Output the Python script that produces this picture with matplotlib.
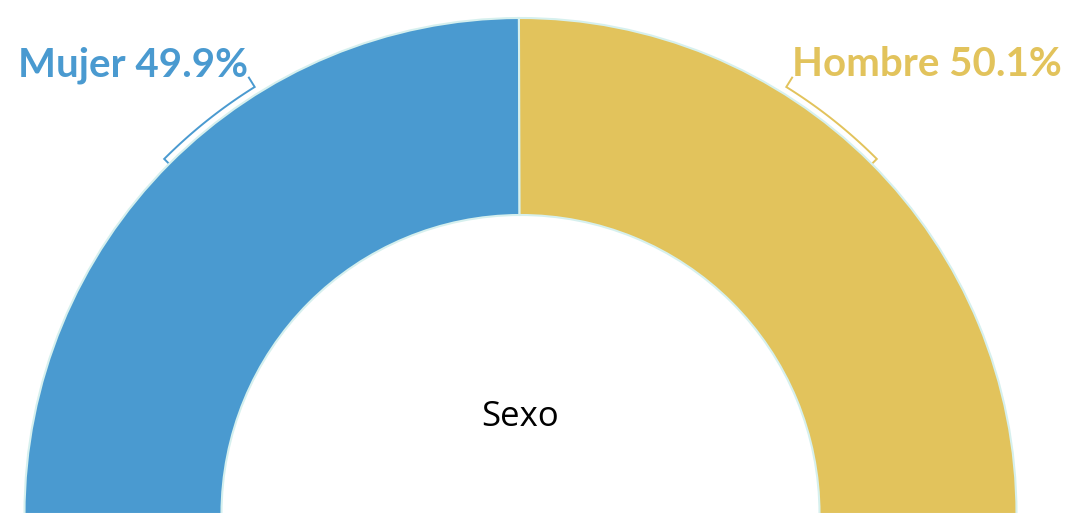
import numpy as np
import matplotlib
matplotlib.use("Agg")
import matplotlib.pyplot as plt
from matplotlib.patches import Wedge

categories = ["Mujer", "Hombre"]
values = [49.9, 50.1]
colors = ["#4A9AD0", "#E2C35C"]
center_label = "Sexo"

W, H = 1069, 513
fig = plt.figure(figsize=(W / 100, H / 100), dpi=100)
ax = fig.add_axes([0, 0, 1, 1])
ax.set_xlim(0, W)
ax.set_ylim(0, H)
ax.set_aspect("equal")
ax.axis("off")

cx, cy = 520.5, -1
r_out, r_in = 496, 299
edge = "#D6F0EE"

total = sum(values)
start = 180.0
for cat, val, col in zip(categories, values, colors):
    span = 180.0 * val / total
    end = start - span
    ax.add_patch(Wedge((cx, cy), r_out, end, start, width=r_out - r_in,
                       facecolor=col, edgecolor=edge, linewidth=1.5))
    start = end

# bracket connectors (layout)
def pol(r, a):
    t = np.deg2rad(a)
    return cx + r * np.cos(t), cy + r * np.sin(t)

brackets = [(135.1, 121.9), (180 - 135.1, 180 - 121.9)]
for (a_low, a_high), col in zip(brackets, colors):
    ts = np.linspace(a_low, a_high, 40)
    pts = [pol(498, a_low)] + [pol(503, t) for t in ts] + [pol(514, a_high)]
    xs, ys = zip(*pts)
    ax.plot(xs, ys, color=col, linewidth=1.4, solid_joinstyle="miter")

label_font = dict(family="Lato", weight="bold", fontsize=29)
ax.text(18, H - 65, f"{categories[0]} {values[0]:.1f}%", color=colors[0],
        ha="left", va="center", **label_font)
ax.text(1062, H - 65, f"{categories[1]} {values[1]:.1f}%", color=colors[1],
        ha="right", va="center", **label_font)

ax.text(cx, H - 417, center_label, color="black", ha="center", va="center",
        family="Open Sans", fontsize=25)

fig.savefig("out.png", dpi=100)
